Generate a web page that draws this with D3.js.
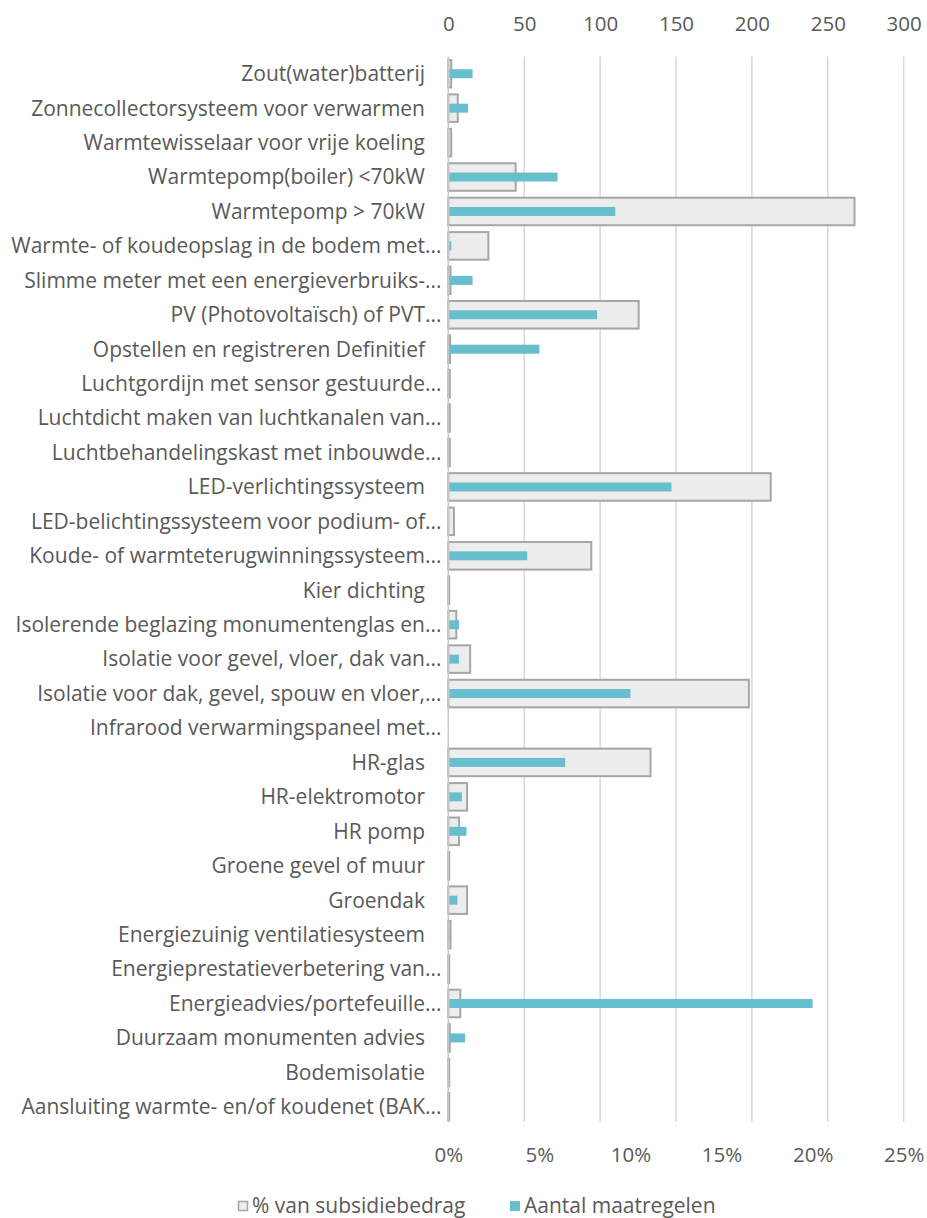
<!DOCTYPE html>
<html>
<head>
<meta charset="utf-8">
<script src="https://cdn.jsdelivr.net/npm/d3@7"></script>
<style>
  html, body { margin: 0; padding: 0; background: #fff; }
  svg { display: block; }
  text { font-family: "Open Sans", "Noto Sans", sans-serif; fill: #595959; }
</style>
</head>
<body>
<svg id="chart" width="927" height="1218"></svg>
<script>
const categories = [
  "Zout(water)batterij",
  "Zonnecollectorsysteem voor verwarmen",
  "Warmtewisselaar voor vrije koeling",
  "Warmtepomp(boiler) <70kW",
  "Warmtepomp > 70kW",
  "Warmte- of koudeopslag in de bodem met...",
  "Slimme meter met een energieverbruiks-...",
  "PV (Photovoltaïsch) of PVT...",
  "Opstellen en registreren Definitief",
  "Luchtgordijn met sensor gestuurde...",
  "Luchtdicht maken van luchtkanalen van...",
  "Luchtbehandelingskast met inbouwde...",
  "LED-verlichtingssysteem",
  "LED-belichtingssysteem voor podium- of...",
  "Koude- of warmteterugwinningssysteem...",
  "Kier dichting",
  "Isolerende beglazing monumentenglas en...",
  "Isolatie voor gevel, vloer, dak van...",
  "Isolatie voor dak, gevel, spouw en vloer,...",
  "Infrarood verwarmingspaneel met...",
  "HR-glas",
  "HR-elektromotor",
  "HR pomp",
  "Groene gevel of muur",
  "Groendak",
  "Energiezuinig ventilatiesysteem",
  "Energieprestatieverbetering van...",
  "Energieadvies/portefeuille...",
  "Duurzaam monumenten advies",
  "Bodemisolatie",
  "Aansluiting warmte- en/of koudenet (BAK..."
];
// % van subsidiebedrag
const pctSubsidie = [0.16, 0.52, 0.16, 3.7, 22.3, 2.2, 0.12, 10.45, 0.1, 0.08, 0.08, 0.08,
  17.7, 0.31, 7.85, 0.05, 0.44, 1.2, 16.5, 0, 11.1, 1.03, 0.59, 0.05, 1.03, 0.12, 0.05,
  0.66, 0.08, 0.05, 0.05];
// Aantal maatregelen
const aantal = [16, 13, 0, 72, 110, 2, 16, 98, 60, 1, 1, 1, 147, 0, 52, 0, 7, 7, 120, 0,
  77, 9, 12, 0, 6, 1, 1, 240, 11, 0, 1];
const topTicks = [0, 50, 100, 150, 200, 250, 300];
const bottomTicks = [0, 0.05, 0.10, 0.15, 0.20, 0.25];
const seriesNames = ["% van subsidiebedrag", "Aantal maatregelen"];

const svg = d3.select("#chart");
const pLeft = 448.3, pRight = 903.7, pTop = 56.5, pBottom = 1124;

const xCount = d3.scaleLinear().domain([0, 300]).range([pLeft, pRight]);
const xPct = d3.scaleLinear().domain([0, 0.25]).range([pLeft, pRight]);
const y = d3.scaleBand().domain(categories).range([pTop, pBottom]).paddingInner(0.2).paddingOuter(0.1);

// gridlines
svg.append("g").selectAll("line").data(topTicks.slice(1)).join("line")
  .attr("x1", d => xCount(d)).attr("x2", d => xCount(d))
  .attr("y1", pTop).attr("y2", pBottom - 2)
  .attr("stroke", "#d9d9d9").attr("stroke-width", 1.5);

// grey bars
svg.append("g").selectAll("rect").data(categories).join("rect")
  .attr("x", xPct(0))
  .attr("y", d => y(d))
  .attr("width", (d, i) => Math.max(0, xPct(pctSubsidie[i] / 100) - xPct(0)))
  .attr("height", y.bandwidth())
  .attr("fill", "#ededed")
  .attr("stroke", (d, i) => pctSubsidie[i] > 0 ? "#a6a6a6" : "none")
  .attr("stroke-width", 2);

// teal bars
const tealH = 9;
svg.append("g").selectAll("rect").data(categories).join("rect")
  .attr("x", xCount(0) + 1)
  .attr("y", d => y(d) + y.bandwidth() / 2 - tealH / 2)
  .attr("width", (d, i) => Math.max(0, xCount(aantal[i]) - xCount(0) - (aantal[i] > 0 ? 1 : 0)))
  .attr("height", tealH)
  .attr("fill", "#67bfcd");

// vertical axis line
svg.append("line")
  .attr("x1", pLeft).attr("x2", pLeft).attr("y1", pTop).attr("y2", pBottom - 2)
  .attr("stroke", "#c8c8c8").attr("stroke-width", 1.5);

// category labels
const labSize = 21;
const lab = svg.append("g");
categories.forEach(c => {
  const truncated = c.endsWith("...");
  const base = truncated ? c.slice(0, -3) : c;
  const yc = y(c) + y.bandwidth() / 2;
  lab.append("text")
    .attr("x", 425).attr("y", yc).attr("dy", "0.35em")
    .attr("text-anchor", "end").attr("font-size", labSize)
    .text(base);
  if (truncated) {
    lab.append("text")
      .attr("x", 425).attr("y", yc).attr("dy", "0.35em")
      .attr("text-anchor", "start").attr("font-size", labSize)
      .text("...");
  }
});

// top axis
const topAxis = d3.axisTop(xCount).tickValues(topTicks).tickSize(0).tickPadding(0).tickFormat(d3.format("d"));
const gTop = svg.append("g").attr("transform", "translate(0,31)").call(topAxis);
gTop.select(".domain").remove();
gTop.selectAll("text").attr("font-size", 20.5).attr("fill", "#595959")
  .style("font-family", '"Open Sans", "Noto Sans", sans-serif');

// bottom axis
const botAxis = d3.axisBottom(xPct).tickValues(bottomTicks).tickSize(0).tickPadding(0).tickFormat(d3.format(".0%"));
const gBot = svg.append("g").attr("transform", "translate(0,1147)").call(botAxis);
gBot.select(".domain").remove();
gBot.selectAll("text").attr("font-size", 20.5).attr("fill", "#595959")
  .style("font-family", '"Open Sans", "Noto Sans", sans-serif');

// legend
const leg = svg.append("g");
leg.append("rect").attr("x", 238.5).attr("y", 1201.5).attr("width", 9).attr("height", 9)
  .attr("fill", "#ededed").attr("stroke", "#a6a6a6").attr("stroke-width", 1.5);
leg.append("text").attr("x", 252).attr("y", 1206).attr("dy", "0.35em").attr("font-size", labSize)
  .text(seriesNames[0]);
leg.append("rect").attr("x", 510).attr("y", 1201).attr("width", 10).attr("height", 10)
  .attr("fill", "#67bfcd");
leg.append("text").attr("x", 524).attr("y", 1206).attr("dy", "0.35em").attr("font-size", labSize)
  .text(seriesNames[1]);
</script>
</body>
</html>
